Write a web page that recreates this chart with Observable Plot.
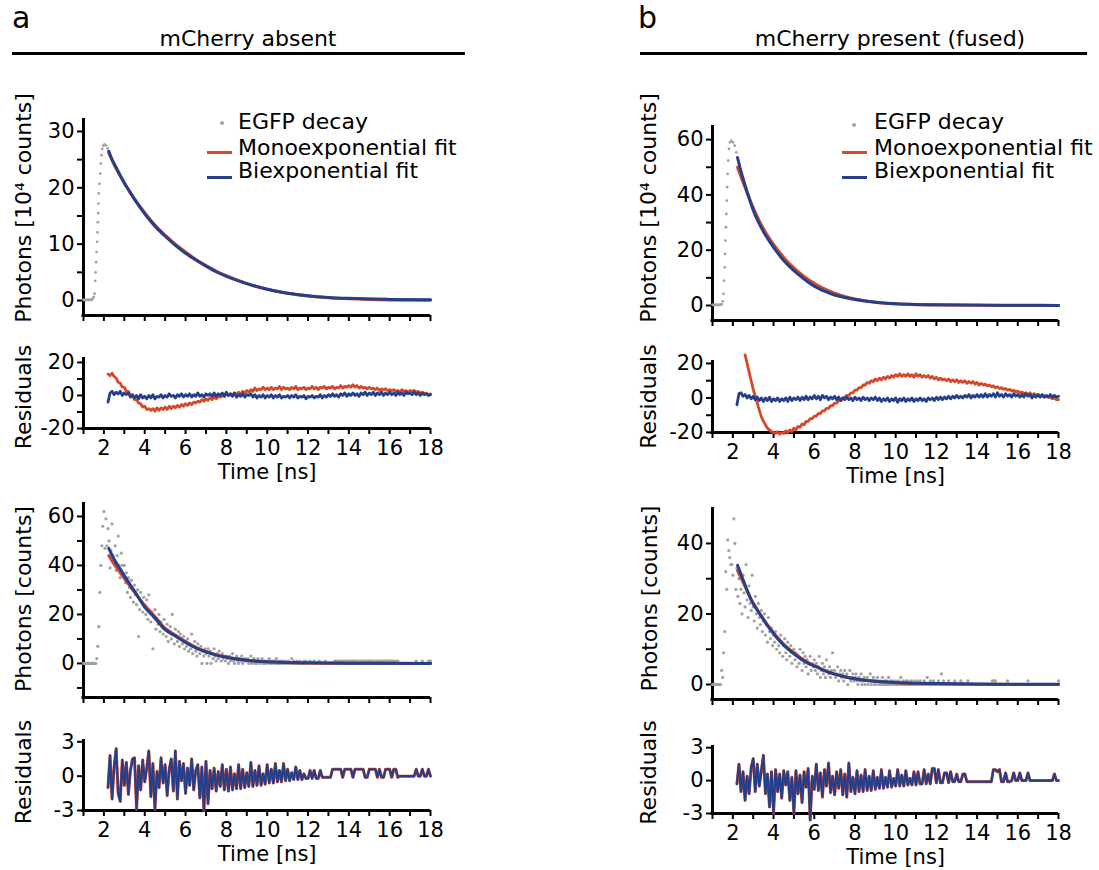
<!DOCTYPE html>
<html><head><meta charset="utf-8">
<script src="https://cdn.jsdelivr.net/npm/d3@7"></script>
<script src="https://cdn.jsdelivr.net/npm/@observablehq/plot@0.6"></script>
<style>
body{margin:0;background:#fff;}
#root{position:relative;width:1099px;height:870px;font-family:"DejaVu Sans",sans-serif;color:#000;overflow:hidden;background:#fff}
.abs{position:absolute;white-space:nowrap}
.fl g[aria-label="x-axis tick"], .fl g[aria-label="y-axis tick"]{stroke-width:2px}
.fl .tick line{stroke-width:2px}
</style></head><body><div id="root"></div>
<script>
// ---------- shared axis values ----------
const timeTicks = [1,2,3,4,5,6,7,8,9,10,11,12,13,14,15,16,17,18];
const timeLabels = [2,4,6,8,10,12,14,16,18];
const legendLabels = ["EGFP decay", "Monoexponential fit", "Biexponential fit"];
const panelTitles = ["mCherry absent", "mCherry present (fused)"];
const panelLetters = ["a", "b"];
const resStep = 0.1;      // residual channel width (ns)
const countStep = 0.05;   // photon-count channel width (ns)

// ---------- a: mCherry absent, high counts (10^4 counts) ----------
const aDecayTime = [1.00,1.05,1.10,1.15,1.20,1.25,1.30,1.35,1.40,1.45,1.50,1.54,1.57,1.59,1.62,1.64,1.67,1.69,1.70,1.72,1.73,1.75,1.78,1.82,1.85,1.88,1.92,1.97,2.03,2.11,2.18,2.24,2.5,3.0,3.5,4.0,4.5,5.0,6,7,8,9,10,11,12,13,14,15,16,17,18];
const aDecayPhotons = [0.1,0.1,0.1,0.1,0.1,0.1,0.1,0.1,0.1,0.3,0.6,1.2,3.5,5.0,6.8,8.6,10.4,12.1,13.9,15.5,17.2,19.0,20.7,22.5,24.3,25.8,26.9,27.5,27.7,27.5,27.0,26.4,24.3,20.8,18.0,15.5,13.3,11.5,8.5,6.2,4.4,3.0,2.0,1.3,0.9,0.55,0.35,0.25,0.2,0.15,0.1];
const aFitTime = [2.24,2.4,2.6,2.8,3.0,3.3,3.6,4.0,4.5,5.0,5.5,6.0,6.5,7.0,7.5,8.0,9.0,10,11,12,13,14,16,18];
const aMonoFit = [26.2,24.9,23.4,22.1,20.8,19.1,17.5,15.6,13.4,11.6,10.0,8.6,7.3,6.2,5.2,4.4,3.0,2.0,1.3,0.8,0.5,0.3,0.1,0.05];
const aBiFit = [26.5,25.0,23.6,22.2,20.9,19.1,17.4,15.4,13.2,11.4,9.8,8.4,7.2,6.1,5.1,4.3,3.0,2.0,1.3,0.85,0.55,0.38,0.2,0.12];
const aResTopStart = 2.2;
const aResTopMono = [13.0,12.0,13.5,11.5,10.5,8.0,7.5,5.0,5.0,2.5,
2.5,0.0,0.0,-2.5,-2.5,-4.5,-5.0,-7.0,-6.5,-8.5,
-8.0,-9.0,-8.0,-9.5,-7.5,-9.0,-7.5,-8.5,-7.0,-8.5,
-6.5,-8.0,-6.5,-7.5,-6.0,-7.0,-5.5,-6.5,-5.0,-6.0,
-4.5,-5.5,-4.0,-4.5,-3.5,-4.0,-2.5,-3.5,-2.0,-3.0,
-1.5,-2.5,-1.0,-2.0,-0.5,-1.0,0.0,-0.5,1.0,0.0,
1.0,0.5,1.5,0.5,2.0,1.0,2.5,1.5,3.0,2.0,
3.5,2.5,4.5,3.0,4.0,3.5,5.0,3.5,4.5,3.5,
5.0,3.5,4.5,4.0,5.5,3.5,5.0,4.0,4.5,3.5,
5.0,4.0,5.5,3.5,4.5,4.0,5.0,3.5,4.5,4.0,
5.5,4.0,5.0,3.5,5.0,4.5,5.5,4.0,5.0,4.5,
5.5,4.0,5.0,4.5,6.0,4.5,5.5,5.0,6.0,5.0,
6.5,5.0,6.0,4.5,5.5,4.5,5.0,4.0,5.0,4.0,
4.5,3.5,4.5,3.0,4.0,3.5,4.0,3.0,3.5,3.0,
3.5,2.5,3.0,2.0,3.5,2.5,3.0,2.0,3.0,2.5,
3.0,2.0,2.5,1.5,2.0,1.0,1.5,0.5,1.0];
const aResTopBi = [-4.0,1.5,2.5,0.5,2.0,1.0,2.5,0.0,1.5,0.5,
1.5,-1.0,0.5,-1.5,0.0,-2.0,0.5,-1.5,-0.5,-2.0,
0.0,-1.5,0.5,-2.0,-0.5,-1.0,0.5,-1.5,0.0,-1.0,
1.0,-0.5,0.0,-1.5,0.5,-0.5,1.0,-1.0,0.5,-0.5,
1.0,-1.0,0.5,-0.5,1.5,-0.5,0.5,-1.0,1.0,0.0,
1.0,-0.5,1.5,-0.5,1.0,0.0,1.5,-0.5,2.0,0.0,
1.0,-0.5,1.5,-1.0,0.5,-0.5,1.0,-1.0,0.5,0.0,
1.0,-1.0,0.5,-1.5,0.0,-1.0,0.5,-1.5,0.0,-1.0,
0.5,-1.5,0.0,-1.0,0.5,-1.5,-0.5,-1.0,0.0,-1.5,
0.0,-1.0,0.5,-1.5,-0.5,-1.0,0.0,-2.0,-0.5,-1.0,
0.0,-1.5,-0.5,-1.0,0.5,-1.5,0.0,-1.0,0.5,-0.5,
1.0,-0.5,0.5,-1.0,1.0,0.0,1.5,-0.5,1.0,0.0,
1.5,0.0,1.0,-0.5,1.5,0.5,2.0,0.0,1.5,0.5,
2.0,0.0,1.5,0.5,2.0,0.0,1.5,0.5,2.0,0.5,
1.5,0.0,2.0,0.5,1.5,0.0,2.0,1.0,1.5,0.5,
2.0,0.5,1.5,0.0,1.5,0.5,1.0,0.0,0.5];

// ---------- a: low counts ----------
const aCountStart = 1.0;
const aCounts = [0,0,0,0,0,0,0,0,0,0,0,0,0,2,7,15,29,40,48,56,
62,47,59,48,55,50,39,46,57,44,41,48,38,44,52,40,35,45,40,36,
40,33,37,29,35,31,27,34,30,25,32,28,24,30,11,22,29,25,21,27,
23,20,26,18,28,21,17,21,6,19,22,14,18,16,20,13,17,15,12,18,
14,11,16,9,13,15,10,20,12,8,14,11,9,13,7,12,10,8,11,6,
9,7,10,5,8,6,12,4,7,9,5,3,8,6,4,7,0,5,3,6,
4,0,6,3,5,0,4,2,6,3,1,4,2,5,3,1,4,2,3,1,
3,2,0,3,1,2,4,1,0,2,3,1,0,2,1,3,0,1,2,1,
1,2,0,1,3,0,1,2,0,1,0,2,1,0,1,2,0,1,0,1,
0,1,2,0,1,0,1,1,0,2,0,1,0,0,1,0,1,0,0,1,
0,1,0,0,2,0,1,0,0,1,0,0,1,0,0,0,1,0,1,0,
0,0,1,0,0,0,1,0,0,0,0,1,0,0,0,0,0,1,0,0,
0,0,0,0,0,0,1,1,0,1,1,1,0,1,1,0,1,1,1,0,
1,1,0,1,1,1,1,0,1,1,0,1,1,1,0,1,1,1,0,1,
1,1,1,0,1,1,0,1,1,1,0,1,1,0,1,1,1,0,1,1,
1,0,1,1,0,1,1,0,1,0,0,0,0,0,0,0,0,0,0,0,
0,0,0,0,0,0,1,0,0,0,0,0,1,0,0,0,0,0,1,0,
1];
const aLowFitTime = [2.24,2.5,2.8,3.1,3.5,4.0,4.5,5.0,5.5,6.0,6.5,7.0,7.5,8.0,8.5,9.0,10,11,12,14,16,18];
const aLowMono = [44.0,40.5,37.0,33.5,29.0,23.8,19.2,14.4,11.6,8.9,6.6,4.9,3.6,2.6,1.9,1.3,0.7,0.35,0.2,0.07,0.03,0.01];
const aLowBi = [47.0,42.5,38.5,34.5,29.5,23.0,18.5,13.8,11.2,8.6,6.4,4.7,3.4,2.5,1.8,1.3,0.7,0.4,0.25,0.1,0.05,0.03];
const aResLowStart = 2.2;
// weighted residuals (mono- and biexponential coincide at this scale)
const aResLow = [-1.0,1.8,-2.0,0.8,2.4,-1.5,-2.2,1.4,
-0.8,1.2,-1.6,0.5,1.5,1.6,-2.9,0.9,-1.2,1.4,
-0.5,0.7,2.2,-1.8,1.1,-2.9,0.4,-1.0,1.6,-0.6,
1.0,-1.7,0.6,1.5,-1.3,2.2,-2.0,1.3,-0.4,1.1,
-1.5,0.7,-0.8,1.5,-1.2,0.5,1.0,-1.9,0.8,-3.0,
1.3,-2.4,0.5,-1.1,0.7,-1.3,0.4,-0.9,1.0,-1.2,
0.6,-1.3,0.8,-1.2,0.2,-1.1,1.0,-1.1,0.6,-1.0,
0.3,-0.9,1.2,-0.9,0.5,-0.8,0.9,-0.8,0.2,-0.7,
1.0,-0.6,0.6,-0.6,1.1,-0.5,0.5,-0.5,1.1,-0.4,
0.6,-0.4,0.3,-0.3,0.8,-0.3,0.5,-0.3,0.2,-0.2,
-0.2,0.5,-0.2,0.5,-0.2,-0.2,0.5,-0.1,-0.1,-0.1,
-0.1,-0.1,0.6,0.6,0.6,0.6,0.6,-0.1,0.6,0.6,
0.6,0.6,-0.1,0.6,0.6,0.6,0.6,0.6,-0.1,-0.1,
0.6,0.6,0.6,0.6,-0.1,0.6,-0.1,-0.1,0.6,0.6,
0.6,-0.1,0.6,0.6,-0.1,0.0,0.0,0.0,0.0,0.0,
0.0,0.0,0.0,0.6,0.0,0.0,0.6,0.0,0.0,0.6,
0.0];

// ---------- b: mCherry present (fused), high counts ----------
const bDecayTime = [1.00,1.05,1.10,1.15,1.20,1.25,1.30,1.35,1.40,1.45,1.50,1.54,1.57,1.60,1.62,1.64,1.66,1.68,1.70,1.72,1.74,1.77,1.81,1.86,1.93,2.01,2.09,2.17,2.5,3.0,3.5,4.0,4.5,5.0,6,7,8,9,10,11,12,13,14,15,16,17,18];
const bDecayPhotons = [0.2,0.2,0.2,0.2,0.2,0.2,0.2,0.2,0.2,0.5,1.5,4.2,9.0,13.8,18.7,23.5,28.3,33.1,37.9,42.8,47.6,52.4,56.6,59.0,59.6,59.0,57.8,55.4,46.0,34.5,26.5,21.0,16.3,12.6,7.0,3.8,2.2,1.2,0.6,0.4,0.3,0.2,0.15,0.1,0.08,0.06,0.05];
const bFitTime = [2.23,2.4,2.6,2.8,3.0,3.3,3.6,4.0,4.5,5.0,5.5,6.0,6.5,7.0,7.5,8.0,9.0,10,11,12,14,16,18];
const bMonoFit = [50.0,46.5,42.7,39.0,35.4,30.6,26.6,22.1,17.4,13.6,10.5,8.0,6.0,4.5,3.3,2.4,1.2,0.6,0.3,0.15,0.05,0.02,0.0];
const bBiFit = [53.5,48.5,43.5,38.8,34.5,29.5,25.5,21.0,16.3,12.6,9.6,7.0,5.2,3.8,2.9,2.2,1.2,0.6,0.4,0.3,0.15,0.08,0.05];
const bResTopMonoStart = 2.6;
const bResTopMono = [25.0,20.0,15.0,10.0,5.0,1.0,-3.0,-7.0,-11.0,-13.5,
-15.5,-17.5,-18.5,-19.5,-20.0,-20.5,-19.5,-21.0,-20.0,-20.5,
-19.0,-20.0,-18.5,-19.5,-17.5,-18.5,-16.5,-17.0,-15.0,-15.5,
-13.5,-13.5,-12.0,-12.0,-10.5,-10.5,-9.0,-9.0,-7.5,-7.5,
-6.0,-6.0,-4.5,-4.5,-3.0,-3.0,-1.5,-1.5,0.0,0.5,
1.5,1.5,3.0,3.0,4.5,4.5,6.0,6.0,7.5,7.5,
9.0,8.5,10.0,9.5,11.0,10.0,11.5,10.5,12.0,11.0,
12.5,11.5,13.0,12.0,13.5,12.5,14.0,12.5,13.5,12.5,
14.0,12.5,13.5,12.0,14.0,12.5,13.5,12.0,13.0,12.0,
13.0,11.5,12.5,11.0,12.0,10.5,11.5,10.5,11.0,10.0,
11.0,9.5,10.5,9.5,10.5,9.0,10.0,9.0,10.0,8.5,
9.5,8.5,9.5,8.0,9.0,7.5,8.5,7.5,8.0,7.0,
7.5,6.5,7.0,6.0,6.5,5.5,6.0,5.0,5.5,4.5,
5.0,4.0,4.5,3.5,4.0,3.0,3.5,2.5,3.0,2.0,
3.0,1.5,2.5,1.5,2.0,1.0,1.5,0.5,1.0,0.5,
0.5,-0.5,0.0,-1.0,-1.0];
const bResTopBiStart = 2.2;
const bResTopBi = [-4.0,2.5,3.0,1.0,2.0,0.0,1.5,-0.5,1.0,-1.0,
0.5,-1.5,0.0,-2.0,0.0,-1.5,0.5,-2.0,-0.5,-1.5,
0.0,-2.0,-0.5,-1.5,0.0,-2.0,0.5,-1.5,0.0,-1.0,
0.5,-1.5,0.5,-1.0,1.0,-1.0,0.5,-0.5,1.5,-0.5,
1.0,-1.0,1.5,0.0,1.0,-1.0,0.5,-0.5,1.0,-1.0,
0.5,-1.5,0.0,-1.0,0.5,-1.0,0.0,-1.5,0.5,-1.0,
0.0,-1.5,0.5,-1.0,0.0,-1.5,0.0,-1.0,0.5,-1.5,
0.0,-2.0,-0.5,-1.5,0.0,-2.0,-0.5,-1.5,0.0,-2.5,
-0.5,-1.5,0.0,-2.0,-0.5,-1.5,0.0,-2.0,-0.5,-1.5,
0.0,-1.5,-0.5,-2.0,0.0,-1.0,0.0,-1.5,0.5,-1.0,
0.5,-1.0,0.5,-0.5,1.0,-0.5,1.0,0.0,1.5,0.0,
1.0,0.0,1.5,0.5,2.0,0.0,1.5,0.5,2.0,0.5,
2.0,0.5,2.5,0.5,2.0,1.0,2.5,0.5,3.0,1.0,
2.0,0.5,2.5,1.0,2.0,0.5,2.5,1.0,2.0,0.5,
2.0,0.5,2.5,1.0,2.0,0.0,1.5,0.5,2.0,0.5,
2.0,0.5,1.5,0.5,2.0,0.5,1.5,0.5,1.0];

// ---------- b: low counts ----------
const bCountStart = 1.0;
const bCounts = [0,0,0,0,0,0,0,0,0,4,2,9,15,32,27,41,38,36,34,34,
31,47,40,27,33,25,30,23,27,20,31,26,22,34,24,19,28,23,21,31,
22,18,25,20,16,23,19,17,21,15,18,20,14,17,12,19,15,13,16,11,
14,12,15,10,13,11,9,14,12,8,11,13,9,7,12,10,8,11,6,9,
10,7,9,5,8,6,10,7,4,9,6,8,5,7,3,6,8,4,6,5,
7,4,6,3,5,8,2,4,6,3,5,2,7,4,3,5,2,4,9,3,
4,2,3,5,1,3,4,2,3,1,4,2,3,0,2,4,1,2,3,1,
2,3,1,0,2,1,3,0,1,2,0,1,2,0,1,3,0,1,2,0,
1,0,2,1,0,1,0,2,0,1,0,1,0,2,0,1,0,1,0,0,
1,0,0,1,0,2,0,1,0,0,1,0,1,0,0,1,0,0,1,0,
0,1,0,0,1,0,0,0,1,0,0,2,0,0,1,0,0,1,0,0,
0,0,1,0,0,3,0,1,0,0,0,0,1,0,0,0,0,0,1,0,
0,0,0,0,1,0,0,0,0,0,0,1,0,0,0,0,0,0,0,0,
0,0,0,0,0,0,0,0,0,0,0,0,0,0,0,1,0,1,1,0,
0,0,0,0,0,0,0,0,0,0,1,0,0,0,0,0,0,0,0,0,
0,0,0,0,0,0,0,0,0,0,1,0,0,0,0,0,0,0,0,0,
0,0,0,0,0,0,0,0,0,0,0,0,0,0,0,0,0,0,0,0,
1];
const bLowFitTime = [2.23,2.5,2.88,3.3,3.7,4.1,4.51,5.0,5.33,5.7,6.15,6.5,6.97,7.5,8.0,8.6,9.4,10.2,11,12,14,16,18];
const bLowMono = [32.3,29.0,24.3,20.3,17.0,14.0,11.4,9.0,7.6,6.2,5.0,4.0,3.0,2.2,1.6,1.1,0.7,0.45,0.3,0.2,0.08,0.03,0.01];
const bLowBi = [33.8,29.8,24.3,20.2,16.7,13.7,11.1,8.7,7.3,6.0,4.9,3.9,3.0,2.2,1.6,1.1,0.75,0.5,0.35,0.25,0.12,0.07,0.05];
const bResLowStart = 2.2;
const bResLow = [-0.3,1.5,-1.0,0.8,-1.8,0.4,-1.2,1.2,2.0,-1.0,
1.5,-0.5,0.9,2.3,-1.2,0.6,-2.4,0.8,-3.0,1.0,
-1.0,0.6,-1.6,0.9,-0.4,0.8,-1.8,0.3,-3.0,0.9,
-1.2,0.5,-2.0,0.8,-0.6,1.1,-3.6,0.4,-0.8,1.5,
-0.9,0.7,-1.5,1.0,-0.5,1.6,-1.1,0.4,-1.3,0.8,
-0.7,1.0,-1.3,0.6,-1.5,1.6,-1.0,0.3,-1.2,0.9,
-1.0,0.5,-1.0,1.0,-0.9,0.4,-0.9,0.9,-0.8,0.3,
-0.7,1.0,-0.7,0.3,-0.6,0.9,-0.6,0.2,-0.5,1.0,
-0.5,0.5,-0.5,0.9,-0.4,0.2,-0.4,0.8,-0.4,0.8,
-0.3,-0.3,1.0,-0.3,0.6,-0.3,1.1,1.1,-0.2,1.0,
-0.2,-0.2,0.7,0.7,-0.2,0.8,-0.1,-0.1,0.6,-0.1,
-0.1,0.6,0.6,-0.1,-0.1,-0.1,-0.1,-0.1,-0.1,-0.1,
-0.1,-0.1,-0.1,-0.1,-0.1,-0.1,1.0,1.0,0.8,1.0,
-0.1,-0.1,0.7,-0.1,-0.1,0.0,0.7,0.0,0.0,0.7,
0.0,0.0,0.0,0.7,0.0,0.0,0.0,0.0,0.0,0.0,
0.0,0.0,0.0,0.0,0.0,0.0,0.6,0.0,0.0];

// ---------- helpers ----------
const COL = {grey: "#a2a2a2", red: "#d5492a", blue: "#263f8a"};
const pairs = (ts, vs) => ts.map((t, i) => ({t, v: vs[i]}));
const channels = (start, step, vs) => vs.map((v, i) => ({t: +(start + i * step).toFixed(3), v}));
const root = document.getElementById("root");
const timeTitleAt = (timeLabels[0] + timeLabels[timeLabels.length - 1]) / 2;

function panel({box, frame, yDomain, yTicks, yMajor, xLabels, title, titleDx, titleDy, marks}) {
  const svg = Plot.plot({
    width: box.width, height: box.height,
    marginLeft: frame.x0 - box.left,
    marginRight: box.left + box.width - frame.x1,
    marginTop: frame.y0 - box.top,
    marginBottom: box.top + box.height - frame.y1,
    className: "fl",
    style: {background: "transparent", fontFamily: "DejaVu Sans", fontSize: "21px", color: "#000", overflow: "visible"},
    x: {domain: [timeTicks[0], timeTicks[timeTicks.length - 1]], ticks: timeTicks, tickSize: 6, tickPadding: 6,
        tickFormat: d => (xLabels && timeLabels.includes(d)) ? String(d) : "", label: null},
    y: {domain: yDomain, ticks: yTicks, tickSize: 6, tickPadding: 3,
        tickFormat: d => yMajor.includes(d) ? String(d) : "", label: null},
    marks: [
      Plot.ruleX([timeTicks[0]], {stroke: "#000", strokeWidth: 3, insetBottom: -1.5}),
      Plot.ruleY([yDomain[0]], {stroke: "#000", strokeWidth: 3, insetLeft: -1.5}),
      ...marks,
      Plot.text([title], {text: d => d, frameAnchor: "left", rotate: -90, textAnchor: "middle",
        dx: titleDx, dy: titleDy, fontSize: 22, fill: "#000"}),
      xLabels ? Plot.text(["Time [ns]"], {text: d => d, x: () => timeTitleAt, frameAnchor: "bottom",
        dy: 50, fontSize: 21, fill: "#000"}) : null
    ]
  });
  svg.style.position = "absolute";
  svg.style.left = box.left + "px";
  svg.style.top = box.top + "px";
  root.append(svg);
}

function htmlText(str, x, baseline, size, center) {
  const d = document.createElement("div");
  d.className = "abs";
  d.textContent = str;
  d.style.fontSize = size + "px";
  d.style.lineHeight = size + "px";
  d.style.top = (baseline - 0.846 * size) + "px";
  d.style.left = x + "px";
  if (center) d.style.transform = "translateX(-50%)";
  root.append(d);
}
function htmlRect(x, y, w, h, color, radius) {
  const d = document.createElement("div");
  d.className = "abs";
  Object.assign(d.style, {left: x + "px", top: y + "px", width: w + "px", height: h + "px", background: color, borderRadius: (radius || 0) + "px"});
  root.append(d);
}

// ---------- layout ----------
const cols = [{left: 0, width: 550, x0: 83, x1: 430}, {left: 550, width: 549, x0: 712, x1: 1058}];
const rows = [{top: 60, height: 275}, {top: 335, height: 155}, {top: 490, height: 225}, {top: 715, height: 155}];
const box = (c, r) => ({left: cols[c].left, width: cols[c].width, top: rows[r].top, height: rows[r].height});
const fr = (c, y0, y1) => ({x0: cols[c].x0, x1: cols[c].x1, y0, y1});

const fitLine = (data, color) => Plot.line(data, {x: "t", y: "v", stroke: color, strokeWidth: 3, curve: "monotone-x"});
const resLine = (data, color, w) => Plot.line(data, {x: "t", y: "v", stroke: color, strokeWidth: w});

// a top
panel({box: box(0,0), frame: fr(0,118,315), yDomain: [-2.66, 32.3], yTicks: [0,5,10,15,20,25,30], yMajor: [0,10,20,30],
  xLabels: false, title: "Photons [10\u2074 counts]", titleDx: -60, titleDy: -9,
  marks: [
    Plot.dot(pairs(aDecayTime, aDecayPhotons), {x: "t", y: "v", r: 1.4, fill: COL.grey, stroke: "none"}),
    fitLine(pairs(aFitTime, aMonoFit), COL.red),
    fitLine(pairs(aFitTime, aBiFit), COL.blue)
  ]});
// a residuals top
panel({box: box(0,1), frame: fr(0,357,428), yDomain: [-20, 23], yTicks: [-20,-10,0,10,20], yMajor: [-20,0,20],
  xLabels: true, title: "Residuals", titleDx: -60, titleDy: 4,
  marks: [
    resLine(channels(aResTopStart, resStep, aResTopMono), COL.red, 2.8),
    resLine(channels(aResTopStart, resStep, aResTopBi), COL.blue, 2.8)
  ]});
// a low counts
panel({box: box(0,2), frame: fr(0,502,697), yDomain: [-13.9, 65.7], yTicks: [-10,0,10,20,30,40,50,60], yMajor: [0,20,40,60],
  xLabels: false, title: "Photons [counts]", titleDx: -60, titleDy: -1,
  marks: [
    Plot.dot(channels(aCountStart, countStep, aCounts), {x: "t", y: "v", r: 1.6, fill: COL.grey, stroke: "none"}),
    fitLine(pairs(aLowFitTime, aLowMono), COL.red),
    fitLine(pairs(aLowFitTime, aLowBi), COL.blue)
  ]});
// a residuals low
panel({box: box(0,3), frame: fr(0,739,810), yDomain: [-3, 3.2], yTicks: [-3,0,3], yMajor: [-3,0,3],
  xLabels: true, title: "Residuals", titleDx: -60, titleDy: -3,
  marks: [
    resLine(channels(aResLowStart, resStep, aResLow), COL.red, 3),
    resLine(channels(aResLowStart, resStep, aResLow), COL.blue, 2.2)
  ]});

// b top
panel({box: box(1,0), frame: fr(1,125,320), yDomain: [-5.42, 65.1], yTicks: [0,10,20,30,40,50,60], yMajor: [0,20,40,60],
  xLabels: false, title: "Photons [10\u2074 counts]", titleDx: -64, titleDy: -15,
  marks: [
    Plot.dot(pairs(bDecayTime, bDecayPhotons), {x: "t", y: "v", r: 1.4, fill: COL.grey, stroke: "none"}),
    fitLine(pairs(bFitTime, bMonoFit), COL.red),
    fitLine(pairs(bFitTime, bBiFit), COL.blue)
  ]});
// b residuals top
panel({box: box(1,1), frame: fr(1,360,432), yDomain: [-20, 21.7], yTicks: [-20,-10,0,10,20], yMajor: [-20,0,20],
  xLabels: true, title: "Residuals", titleDx: -64, titleDy: 0,
  marks: [
    resLine(channels(bResTopMonoStart, resStep, bResTopMono), COL.red, 2.8),
    resLine(channels(bResTopBiStart, resStep, bResTopBi), COL.blue, 2.8)
  ]});
// b low counts
panel({box: box(1,2), frame: fr(1,507,699), yDomain: [-4.26, 50.2], yTicks: [0,10,20,30,40], yMajor: [0,20,40],
  xLabels: false, title: "Photons [counts]", titleDx: -63, titleDy: -5,
  marks: [
    Plot.dot(channels(bCountStart, countStep, bCounts), {x: "t", y: "v", r: 1.6, fill: COL.grey, stroke: "none"}),
    fitLine(pairs(bLowFitTime, bLowMono), COL.red),
    fitLine(pairs(bLowFitTime, bLowBi), COL.blue)
  ]});
// b residuals low
panel({box: box(1,3), frame: fr(1,745,813), yDomain: [-3, 3.2], yTicks: [-3,0,3], yMajor: [-3,0,3],
  xLabels: true, title: "Residuals", titleDx: -64, titleDy: -7,
  marks: [
    resLine(channels(bResLowStart, resStep, bResLow), COL.red, 3),
    resLine(channels(bResLowStart, resStep, bResLow), COL.blue, 2.2)
  ]});

// ---------- headers ----------
htmlText(panelLetters[0], 12, 28, 30, false);
htmlText(panelLetters[1], 638, 28, 30, false);
htmlText(panelTitles[0], 248, 47, 22, true);
htmlText(panelTitles[1], 890, 47, 22, true);
htmlRect(12, 52, 453, 3, "#000");
htmlRect(640, 52, 447, 3, "#000");

// ---------- legends ----------
[{dotX: 222, dotY: 122.5, lineX: 207, textX: 238}, {dotX: 854, dotY: 125, lineX: 842, textX: 874}].forEach(L => {
  htmlRect(L.dotX - 2, L.dotY - 2, 4, 4, COL.grey, 2);
  htmlText(legendLabels[0], L.textX, 130, 22, false);
  htmlRect(L.lineX, 150.5, 25, 3, COL.red);
  htmlText(legendLabels[1], L.textX, 155.5, 22, false);
  htmlRect(L.lineX, 175.5, 25, 3, COL.blue);
  htmlText(legendLabels[2], L.textX, 179, 22, false);
});
</script></body></html>
